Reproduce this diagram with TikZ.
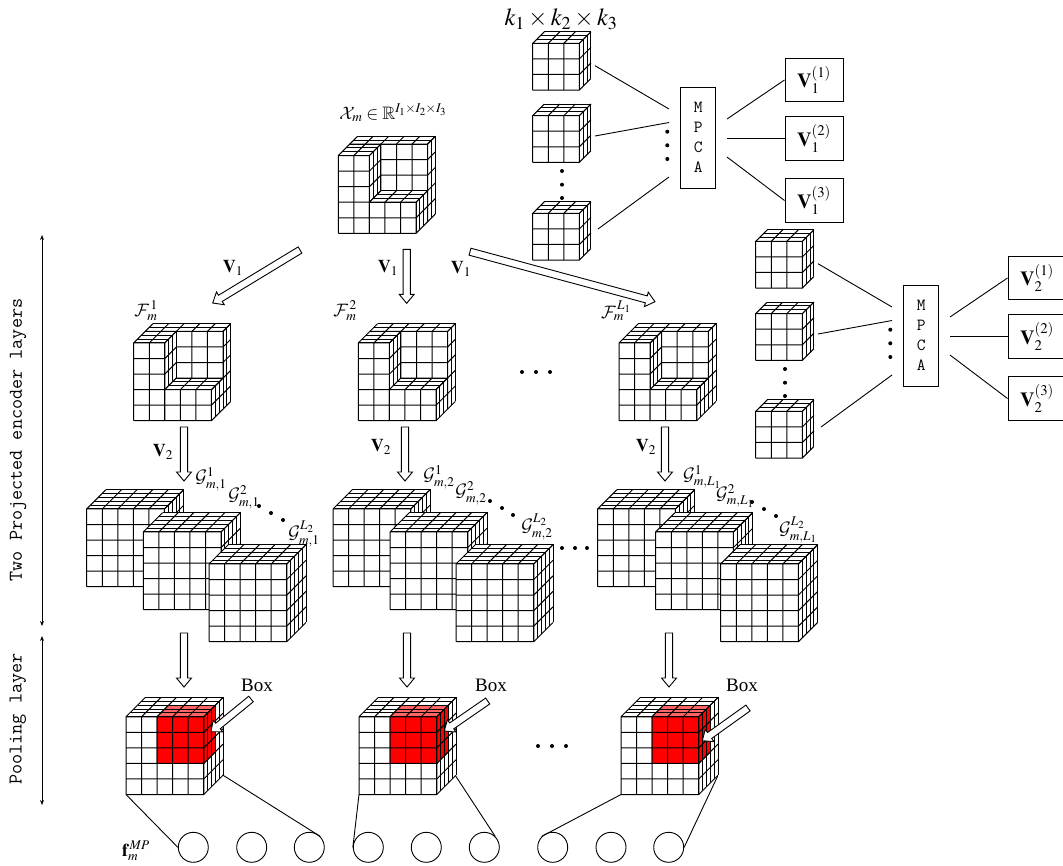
\documentclass[tikz,border=0pt]{standalone}
\usepackage{fix-cm}
\usepackage{amsmath}
\usepackage{amssymb}
\usepackage{mathptmx}
\usepackage[no-math]{fontspec}
\setmainfont{Liberation Serif}
\DeclareMathAlphabet{\mathcal}{OMS}{cmsy}{m}{n}
\usetikzlibrary{calc}
\usetikzlibrary{arrows.meta}

\definecolor{redtop}{HTML}{FF6464}
\newcommand{\fsz}[1]{\fontsize{#1}{#1}\selectfont}
\def\facecol{white}
\def\topcol{white}
\def\sidecol{white}

% one block of cells: corner, then i j k offset, then ni nj nk
\newcommand{\boxpart}[7]{%
  \begin{scope}[shift={(#1)},x={(15.55pt,0pt)},y={(0pt,15.55pt)},z={(3.85pt,3.85pt)},line width=1pt]
    \fill[\facecol] (#2,#3,#4) -- (#2+#5,#3,#4) -- (#2+#5,#3+#6,#4) -- (#2,#3+#6,#4) -- cycle;
    \fill[\topcol] (#2,#3+#6,#4) -- (#2+#5,#3+#6,#4) -- (#2+#5,#3+#6,#4+#7) -- (#2,#3+#6,#4+#7) -- cycle;
    \fill[\sidecol] (#2+#5,#3,#4) -- (#2+#5,#3,#4+#7) -- (#2+#5,#3+#6,#4+#7) -- (#2+#5,#3+#6,#4) -- cycle;
    \foreach \a in {0,...,#5}
      \draw (#2+\a,#3,#4) -- (#2+\a,#3+#6,#4) -- (#2+\a,#3+#6,#4+#7);
    \foreach \b in {0,...,#6}
      \draw (#2,#3+\b,#4) -- (#2+#5,#3+\b,#4) -- (#2+#5,#3+\b,#4+#7);
    \foreach \c in {0,...,#7}
      \draw (#2,#3+#6,#4+\c) -- (#2+#5,#3+#6,#4+\c) -- (#2+#5,#3,#4+\c);
  \end{scope}}
\newcommand{\fullcube}[1]{\boxpart{#1}{0}{0}{0}{5}{5}{5}}
\newcommand{\smallcube}[1]{\boxpart{#1}{0}{0}{0}{3}{3}{3}}
\newcommand{\notchcube}[1]{%
  \boxpart{#1}{0}{0}{3}{5}{5}{2}
  \boxpart{#1}{0}{0}{0}{2}{5}{3}
  \boxpart{#1}{2}{0}{0}{3}{2}{3}}
\newcommand{\poolcube}[1]{%
  \fullcube{#1}
  \begingroup
    \def\facecol{red}\def\topcol{redtop}\def\sidecol{red}
    \boxpart{#1}{2}{2}{0}{3}{3}{3}
  \endgroup}
\newcommand{\blockarrow}[2]{%
  \coordinate (base) at ($(#2)!9pt!(#1)$);
  \draw[hollowarrow] ($(#1)!3.6pt!90:(#2)$) -- ($(base)!3.6pt!90:(#2)$) -- ($(base)!7.5pt!90:(#2)$)
    -- (#2) -- ($(base)!7.5pt!-90:(#2)$) -- ($(base)!3.6pt!-90:(#2)$) -- ($(#1)!3.6pt!-90:(#2)$) -- cycle;}

\tikzset{
  hollowarrow/.style={draw,fill=white,line width=0.9pt,line join=miter},
  thinline/.style={line width=0.9pt},
  vbox/.style={draw,line width=1pt,fill=white,minimum width=58pt,minimum height=43.5pt,inner sep=0pt,font=\fsz{20}},
  mpcabox/.style={draw,line width=1pt,fill=white,minimum width=35pt,minimum height=101pt,inner sep=0pt,align=center,font=\ttfamily\fsz{17}},
  dotmark/.style={circle,fill=black,inner sep=0pt,minimum size=4pt},
  poolunit/.style={circle,draw,line width=0.9pt,minimum size=30pt,inner sep=0pt},
  lbl/.style={inner sep=0pt,font=\fsz{18}},
  sidelbl/.style={inner sep=0pt,rotate=90,font=\ttfamily\fsz{19.6}},
  spanline/.style={line width=0.9pt,{Stealth[length=5pt,width=4pt]}-{Stealth[length=5pt,width=4pt]}}
}

\begin{document}
\begin{tikzpicture}[x=1pt,y=-1pt]
  \useasboundingbox (0,0) rectangle (1063,865);

  % MPCA groups
  \foreach \g/\ox/\oy in {1/0/0,2/223/198}{
    \begin{scope}[shift={(\ox,\oy)}]
      \smallcube{532.7,90}
      \smallcube{532.7,162.3}
      \smallcube{532.7,260}
      \node[mpcabox] (mpca\g) at (698.2,137.5) {M\\[3pt]P\\[3pt]C\\[3pt]A};
      \node[vbox] (v\g1) at (814,80) {$\mathbf{V}_{\g}^{(1)}$};
      \node[vbox] (v\g2) at (814,138.4) {$\mathbf{V}_{\g}^{(2)}$};
      \node[vbox] (v\g3) at (814,200.5) {$\mathbf{V}_{\g}^{(3)}$};
      \coordinate (ca\g) at (595,65.7);
      \coordinate (cb\g) at (595,136);
      \coordinate (cc\g) at (598,229);
      \coordinate (ma\g) at (669,109);
      \coordinate (mb\g) at (669,122.5);
      \coordinate (mc\g) at (669,177);
      \coordinate (na\g) at (727,119);
      \coordinate (nb\g) at (727,138.4);
      \coordinate (nc\g) at (727,157);
      \draw[thinline] (ca\g) -- (ma\g);
      \draw[thinline] (cb\g) -- (mb\g);
      \draw[thinline] (cc\g) -- (mc\g);
      \draw[thinline] (na\g) -- (v\g1.west);
      \draw[thinline] (nb\g) -- (v\g2.west);
      \draw[thinline] (nc\g) -- (v\g3.west);
      \node[dotmark] (dv\g a) at (562,171) {};
      \node[dotmark] (dv\g b) at (562,184.7) {};
      \node[dotmark] (dv\g c) at (562,198) {};
      \node[dotmark] (dm\g a) at (667.3,131.7) {};
      \node[dotmark] (dm\g b) at (667.3,145.3) {};
      \node[dotmark] (dm\g c) at (667.3,159) {};
    \end{scope}
  }
  \node[lbl,font=\fsz{24.5}] (ksize) at (561,19) {$k_1\times k_2\times k_3$};

  % input and projected cubes
  \notchcube{338.3,233.3}
  \node[lbl,font=\fsz{18}] (xin) at (393,113) {$\mathcal{X}_m\in\mathbb{R}^{I_1\times I_2\times I_3}$};
  \notchcube{133.7,420.7}
  \notchcube{358.3,420.7}
  \notchcube{619,420.7}
  \node[lbl] (f1) at (146,311) {$\mathcal{F}_m^{\,1}$};
  \node[lbl] (f2) at (345,311) {$\mathcal{F}_m^{\,2}$};
  \node[lbl] (f3) at (616,311) {$\mathcal{F}_m^{\,L_1}$};
  \foreach \n/\px in {a/522,b/536,c/550}
    \node[dotmark] (df\n) at (\px,372) {};

  % second projection
  \foreach \px/\py in {86.7/586.7,143.3/609.7,209/641.7,333/586.7,390/609.7,456/641.7,597.7/586.7,655.7/609.7,720.7/641.7}{
    \fullcube{\px,\py}
  }
  \node[lbl] (g11) at (211,479) {$\mathcal{G}_{m,1}^{1}$};
  \node[lbl] (g12) at (244,497) {$\mathcal{G}_{m,1}^{2}$};
  \node[lbl] (g13) at (304,534) {$\mathcal{G}_{m,1}^{L_2}$};
  \node[lbl] (g21) at (439,477) {$\mathcal{G}_{m,2}^{1}$};
  \node[lbl] (g22) at (471,493) {$\mathcal{G}_{m,2}^{2}$};
  \node[lbl] (g23) at (537,527) {$\mathcal{G}_{m,2}^{L_2}$};
  \node[lbl] (g31) at (702,477) {$\mathcal{G}_{m,L_1}^{1}$};
  \node[lbl] (g32) at (735,496) {$\mathcal{G}_{m,L_1}^{2}$};
  \node[lbl] (g33) at (798,530) {$\mathcal{G}_{m,L_1}^{L_2}$};
  \foreach \n/\px/\py in {a/259/506,b/271/513,c/283/520,d/490/501,e/502/508,f/513/515,g/752/502,h/764/509,i/776/516,j/562/548,k/575/548,l/587/548}
    \node[dotmark] (dg\n) at (\px,\py) {};

  % pooling
  \poolcube{126,794.5}
  \poolcube{359,794.5}
  \poolcube{621,794.5}
  \foreach \n/\px in {a/538,b/552,c/566}
    \node[dotmark] (dp\n) at (\px,746) {};
  \node[lbl,font=\fsz{19}] (box1) at (257,685) {Box};
  \node[lbl,font=\fsz{19}] (box2) at (491,685) {Box};
  \node[lbl,font=\fsz{19}] (box3) at (742,685) {Box};

  % block arrows
  \foreach \n/\sx/\sy/\tx/\ty in {a/300/250/212.7/303,b/406.7/249.3/406.7/303.3,c/470/251.7/655/301.7,
      d/184/427/184/481,e/405/427/405/481,f/665/427/665/481,
      g/184/633/184/687,h/407/633/407/687,i/669/633/669/687,
      j/251/699/211/731.7,k/487.7/701/444.3/731,l/748/708/702.3/740.7}{
    \coordinate (s\n) at (\sx,\sy);
    \coordinate (t\n) at (\tx,\ty);
    \blockarrow{s\n}{t\n}
  }
  \node[lbl] (va) at (233,268) {$\mathbf{V}_1$};
  \node[lbl] (vb) at (388,268) {$\mathbf{V}_1$};
  \node[lbl] (vc) at (461,269) {$\mathbf{V}_1$};
  \node[lbl] (vd) at (163,452) {$\mathbf{V}_2$};
  \node[lbl] (ve) at (381,447) {$\mathbf{V}_2$};
  \node[lbl] (vf) at (646,447) {$\mathbf{V}_2$};

  % output units
  \foreach \n/\px in {1/193.3,2/251.7,3/309.3,4/368.3,5/426.3,6/484.3,7/552.7,8/611,9/668.7}
    \node[poolunit] (u\n) at (\px,847.3) {};
  \coordinate (pa) at (126,794.5);
  \coordinate (pb) at (222.7,775);
  \coordinate (pc) at (359,794.5);
  \coordinate (pd) at (455.7,776);
  \coordinate (pe) at (621,794.5);
  \coordinate (pf) at (717.7,776);
  \draw[thinline] (pa) -- (u1.west);
  \draw[thinline] (pb) -- (u3.north east);
  \draw[thinline] (pc) -- (u4.west);
  \draw[thinline] (pd) -- (u6.north east);
  \draw[thinline] (pe) -- (u7.north west);
  \draw[thinline] (pf) -- (u9.east);
  \node[lbl] (fout) at (136,851) {$\mathbf{f}_m^{\,MP}$};

  % side labels
  \coordinate (enctop) at (42,235);
  \coordinate (encbot) at (42,626);
  \coordinate (pooltop) at (42,636);
  \coordinate (poolbot) at (42,805);
  \draw[spanline] (enctop) -- (encbot);
  \draw[spanline] (pooltop) -- (poolbot);
  \node[sidelbl] (enclbl) at (18,440) {Two Projected encoder layers};
  \node[sidelbl] (poollbl) at (18,719) {Pooling layer};
\end{tikzpicture}
\end{document}
